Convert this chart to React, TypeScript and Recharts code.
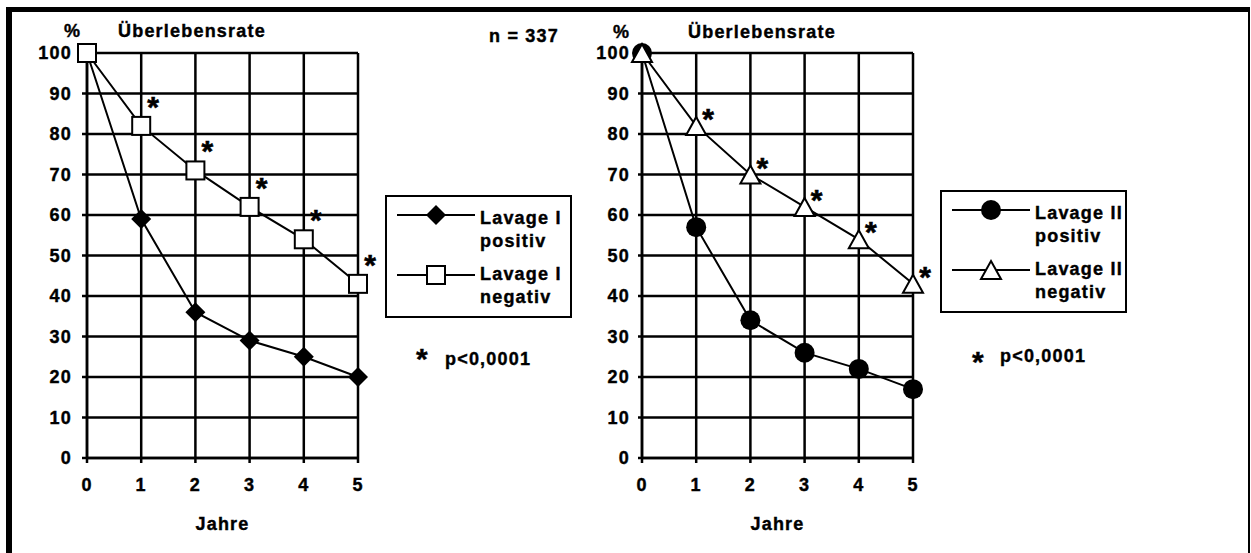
import { LineChart, Line, XAxis, YAxis, CartesianGrid, Legend, LabelList } from "recharts"

const years = [0, 1, 2, 3, 4, 5]
const yTicks = [0, 10, 20, 30, 40, 50, 60, 70, 80, 90, 100]

const lavage1Positiv = [100, 59, 36, 29, 25, 20]
const lavage1Negativ = [100, 82, 71, 62, 54, 43]
const lavage2Positiv = [100, 57, 34, 26, 22, 17]
const lavage2Negativ = [100, 82, 70, 62, 54, 43]

const seriesOrder = ["pos", "neg"]
const legend1 = { pos: ["Lavage I", "positiv"], neg: ["Lavage I", "negativ"] }
const legend2 = { pos: ["Lavage II", "positiv"], neg: ["Lavage II", "negativ"] }

const FONT = "'Liberation Sans', Arial, sans-serif"
const textStyle = {
	fontFamily: FONT,
	fontWeight: "bold",
	fontSize: 18,
	letterSpacing: 1.2,
	color: "#000",
	WebkitTextStroke: "0.4px #000",
} as const

const data1 = years.map((year, i) => ({ year, pos: lavage1Positiv[i], neg: lavage1Negativ[i] }))
const data2 = years.map((year, i) => ({ year, pos: lavage2Positiv[i], neg: lavage2Negativ[i] }))

const diamond = (cx: number, cy: number, key?: any) => (
	<polygon key={key} points={`${cx},${cy - 10} ${cx + 10},${cy} ${cx},${cy + 10} ${cx - 10},${cy}`} fill="#000" />
)
const square = (cx: number, cy: number, key?: any) => (
	<rect key={key} x={cx - 9} y={cy - 9} width={18} height={18} fill="#fff" stroke="#000" strokeWidth={2} />
)
const circle = (cx: number, cy: number, key?: any) => <circle key={key} cx={cx} cy={cy} r={10} fill="#000" />
const triangle = (cx: number, cy: number, key?: any) => (
	<polygon key={key} points={`${cx},${cy - 9} ${cx + 10},${cy + 9} ${cx - 10},${cy + 9}`} fill="#fff" stroke="#000" strokeWidth={2} />
)

const dotOf = (shape: (cx: number, cy: number, key?: any) => any) => (props: any) =>
	shape(props.cx, props.cy, `${props.dataKey}-${props.index}`)

const starOf = (dx: number, dy: number) => (props: any) => {
	if (props.index === 0) return null
	return (
		<text x={props.x + dx} y={props.y + dy} textAnchor="middle" fontSize={30} fontWeight="bold" fontFamily={FONT} fill="#000" stroke="#000" strokeWidth={0.6}>
			*
		</text>
	)
}

const legendOf = (names: any, shapes: any) => (props: any) => {
	const items = [...(props.payload || [])].sort(
		(a: any, b: any) => seriesOrder.indexOf(a.dataKey) - seriesOrder.indexOf(b.dataKey)
	)
	return (
		<div style={{ width: 187, height: 123, border: "2px solid #000", boxSizing: "border-box", background: "#fff", position: "relative" }}>
			<svg width={183} height={119} style={{ position: "absolute", left: 0, top: 0 }}>
				{items.map((entry: any, i: number) => (
					<g key={entry.dataKey}>
						<line x1={10} x2={88} y1={18 + i * 60} y2={18 + i * 60} stroke="#000" strokeWidth={2} />
						{shapes[entry.dataKey](49, 18 + i * 60)}
					</g>
				))}
			</svg>
			{items.map((entry: any, i: number) => (
				<div key={entry.dataKey} style={{ ...textStyle, position: "absolute", left: 93, top: 10 + i * 56, lineHeight: "23px", whiteSpace: "nowrap" }}>
					{names[entry.dataKey][0]}
					<br />
					{names[entry.dataKey][1]}
				</div>
			))}
		</div>
	)
}

const tickStyle = { fill: "#000", fontSize: 18, fontWeight: "bold", fontFamily: FONT, letterSpacing: 1.2, stroke: "#000", strokeWidth: 0.4 }

const SurvivalChart = (p: any) => (
	<div style={{ position: "absolute", left: p.left, top: 0 }}>
		<LineChart width={p.width} height={553} data={p.data} margin={p.margin}>
			<CartesianGrid stroke="#000" strokeWidth={2.5} />
			<XAxis
				dataKey="year"
				type="number"
				domain={[0, 5]}
				ticks={years}
				height={72}
				stroke="#000"
				strokeWidth={2.5}
				tickSize={5}
				tickMargin={15}
				tick={tickStyle}
				label={{
					value: "Jahre",
					position: "insideBottom",
					offset: 0,
					fill: "#000",
					stroke: "#000",
					strokeWidth: 0.4,
					fontSize: 18,
					fontWeight: "bold",
					fontFamily: FONT,
					letterSpacing: 1.2,
				}}
			/>
			<YAxis
				type="number"
				domain={[0, 100]}
				ticks={yTicks}
				width={50}
				stroke="#000"
				strokeWidth={2.5}
				tickSize={p.yTickSize}
				tickMargin={p.yTickMargin}
				tick={tickStyle}
				interval={0}
			/>
			<Legend
				layout="horizontal"
				verticalAlign="middle"
				align="center"
				wrapperStyle={{ left: p.legendLeft, top: p.legendTop, width: 187 }}
				content={legendOf(p.names, p.shapes)}
			/>
			<Line dataKey="pos" stroke="#000" strokeWidth={2} dot={dotOf(p.shapes.pos)} activeDot={false} isAnimationActive={false} />
			<Line dataKey="neg" stroke="#000" strokeWidth={2} dot={dotOf(p.shapes.neg)} activeDot={false} isAnimationActive={false}>
				<LabelList dataKey="neg" content={starOf(p.starDx, p.starDy)} />
			</Line>
		</LineChart>
	</div>
)

const Txt = (p: any) => (
	<div style={{ ...textStyle, position: "absolute", left: p.x, top: p.y, lineHeight: "18px", whiteSpace: "nowrap", fontSize: p.size || 18 }}>
		{p.children}
	</div>
)

export default function App() {
	return (
		<div style={{ position: "absolute", left: 0, top: 0, width: 1251, height: 553, background: "#fff", overflow: "hidden" }}>
			<div
				style={{
					position: "absolute",
					left: 6,
					top: 7,
					width: 1236,
					height: 560,
					borderTop: "5px solid #000",
					borderLeft: "6px solid #000",
					borderRight: "2px solid #000",
				}}
			/>
			<SurvivalChart
				left={0}
				width={600}
				data={data1}
				margin={{ top: 53, right: 242, bottom: 23, left: 37 }}
				yTickSize={5}
				yTickMargin={10}
				legendLeft={385}
				legendTop={195}
				names={legend1}
				shapes={{ pos: diamond, neg: square }}
				starDx={12}
				starDy={-9}
			/>
			<SurvivalChart
				left={560}
				width={640}
				data={data2}
				margin={{ top: 53, right: 287, bottom: 23, left: 32 }}
				yTickSize={4}
				yTickMargin={8}
				legendLeft={380}
				legendTop={190}
				names={legend2}
				shapes={{ pos: circle, neg: triangle }}
				starDx={12}
				starDy={3}
			/>
			<Txt x={64} y={22}>%</Txt>
			<Txt x={118} y={22}>Überlebensrate</Txt>
			<Txt x={489} y={27}>n = 337</Txt>
			<Txt x={613} y={23}>%</Txt>
			<Txt x={688} y={23}>Überlebensrate</Txt>
			<Txt x={416} y={350} size={30}>*</Txt>
			<Txt x={445} y={350}>p&lt;0,0001</Txt>
			<Txt x={972} y={353} size={30}>*</Txt>
			<Txt x={1000} y={347}>p&lt;0,0001</Txt>
		</div>
	)
}
